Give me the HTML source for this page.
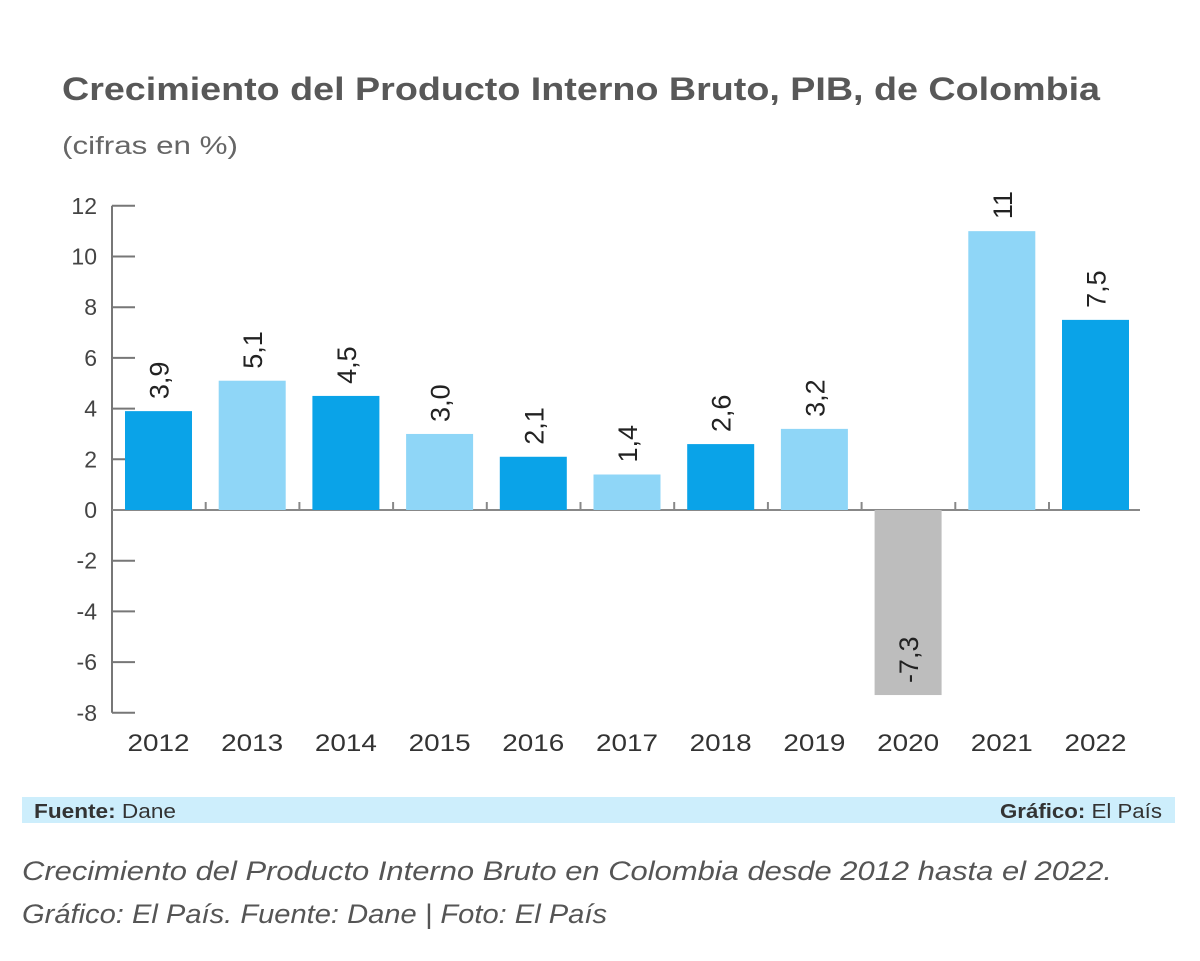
<!DOCTYPE html>
<html><head><meta charset="utf-8"><style>
body{margin:0;background:#fff;width:1200px;height:961px;overflow:hidden;font-family:"Liberation Sans",sans-serif}
</style></head><body>
<svg width="1200" height="961" style="position:absolute;left:0;top:0">
<text x="62" y="100" font-size="32" font-weight="bold" fill="#585858" textLength="1038" lengthAdjust="spacingAndGlyphs">Crecimiento del Producto Interno Bruto, PIB, de Colombia</text>
<text x="62" y="154" font-size="25" fill="#666" textLength="176" lengthAdjust="spacingAndGlyphs">(cifras en %)</text>
<g id="axes"></g>
<g id="bars"></g>
<rect x="22" y="797" width="1153" height="26" fill="#cdeefc"/>
<text x="34" y="818" font-size="20" fill="#333" textLength="142" lengthAdjust="spacingAndGlyphs"><tspan font-weight="bold">Fuente:</tspan> Dane</text>
<text x="1000" y="818" font-size="20" fill="#333" textLength="162" lengthAdjust="spacingAndGlyphs"><tspan font-weight="bold">Gráfico:</tspan> El País</text>
<text x="22" y="880" font-size="27" font-style="italic" fill="#555" textLength="1090" lengthAdjust="spacingAndGlyphs">Crecimiento del Producto Interno Bruto en Colombia desde 2012 hasta el 2022.</text>
<text x="22" y="923" font-size="27" font-style="italic" fill="#555" textLength="585" lengthAdjust="spacingAndGlyphs">Gráfico: El País. Fuente: Dane | Foto: El País</text>
</svg>
<script>
const years=["2012","2013","2014","2015","2016","2017","2018","2019","2020","2021","2022"];
const values=[3.9,5.1,4.5,3.0,2.1,1.4,2.6,3.2,-7.3,11,7.5];
const labels=["3,9","5,1","4,5","3,0","2,1","1,4","2,6","3,2","-7,3","11","7,5"];
const yTicks=[12,10,8,6,4,2,0,-2,-4,-6,-8];
const NS="http://www.w3.org/2000/svg";
const y=v=>510-v*25.35;
const xL=i=>125+i*93.7, bw=67;
function mk(t,a,p){const e=document.createElementNS(NS,t);for(const k in a)e.setAttribute(k,a[k]);p.appendChild(e);return e;}
const ax=document.getElementById('axes'), bg=document.getElementById('bars');
const yl=mk('line',{x1:112,y1:y(12),x2:112,y2:y(-8),stroke:'#777','stroke-width':2},ax);


yTicks.forEach(v=>{
 const tk=mk('line',{x1:112,y1:y(v),x2:135,y2:y(v),stroke:'#777','stroke-width':2},ax);
 
 
 const t=mk('text',{x:97,y:y(v)+8,'font-size':23,fill:'#444','text-anchor':'end'},ax);
 t.textContent=v;
 
 
});
const zl=mk('line',{x1:112,y1:y(0),x2:1140,y2:y(0),stroke:'#888','stroke-width':2},ax);


years.forEach((yr,i)=>{
 const v=values[i];
 const col=v<0?'#bdbdbd':(i%2===0?'#0aa3e8':'#8fd6f7');
 const r=mk('rect',{x:xL(i),y:Math.min(y(v),y(0)),width:bw,height:Math.abs(y(v)-y(0)),fill:col},bg);
 
 
 const cx=xL(i)+bw/2+10;
 const ly=y(v)-12;
 const t=mk('text',{x:0,y:0,'font-size':27,fill:'#222','transform':`translate(${cx},${ly}) rotate(-90)`},bg);
 t.textContent=labels[i];
 
 
 const xt=mk('text',{x:xL(i)+bw/2,y:751,'font-size':24,fill:'#333','text-anchor':'middle',textLength:62,lengthAdjust:'spacingAndGlyphs'},bg);
 xt.textContent=yr;
 
 
 if(i>0){const s=mk('line',{x1:xL(i)-13,y1:y(0)-8,x2:xL(i)-13,y2:y(0),stroke:'#888','stroke-width':2},ax);
 
 }
});
</script>
</body></html>
